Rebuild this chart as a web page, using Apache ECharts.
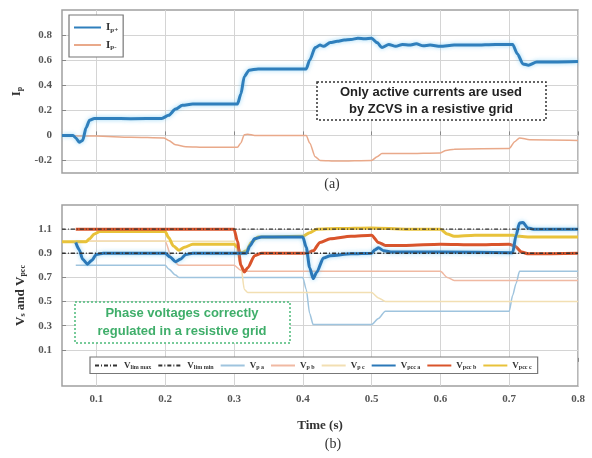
<!DOCTYPE html>
<html>
<head>
<meta charset="utf-8">
<script src="https://cdn.jsdelivr.net/npm/echarts@6/dist/echarts.min.js"></script>
<style>
  html, body { margin: 0; padding: 0; background: #fff; }
  #chart { width: 592px; height: 458px; }
</style>
</head>
<body>
<div id="chart"></div>
<script>
// tick values
var timeTicks = [0.1, 0.2, 0.3, 0.4, 0.5, 0.6, 0.7, 0.8];
var ipTicks = [-0.2, 0, 0.2, 0.4, 0.6, 0.8];
var vTicks = [0.1, 0.3, 0.5, 0.7, 0.9, 1.1];

// (a) active currents, [time, value]
var ipPlus = [[0.05,0],[0.066,0],[0.07,-0.02],[0.075,-0.055],[0.08,-0.04],[0.085,0.06],[0.09,0.12],[0.097,0.135],
  [0.12,0.135],[0.15,0.133],[0.195,0.135],[0.205,0.16],[0.215,0.21],[0.225,0.24],[0.24,0.25],[0.305,0.25],
  [0.31,0.33],[0.315,0.47],[0.322,0.52],[0.335,0.53],[0.405,0.53],[0.41,0.6],[0.418,0.7],[0.425,0.72],
  [0.43,0.71],[0.44,0.74],[0.45,0.75],[0.46,0.76],[0.47,0.765],[0.48,0.775],[0.49,0.77],[0.5,0.775],
  [0.508,0.74],[0.515,0.7],[0.525,0.725],[0.535,0.71],[0.545,0.725],[0.555,0.72],[0.565,0.73],[0.575,0.715],
  [0.585,0.72],[0.6,0.71],[0.62,0.72],[0.65,0.72],[0.68,0.725],[0.705,0.725],[0.712,0.65],[0.72,0.57],
  [0.728,0.56],[0.74,0.585],[0.8,0.59]];
var ipMinus = [[0.05,0],[0.1,-0.005],[0.15,-0.015],[0.198,-0.02],[0.205,-0.04],[0.215,-0.075],[0.23,-0.09],
  [0.26,-0.095],[0.305,-0.095],[0.31,-0.06],[0.315,0.005],[0.32,0.01],[0.33,0],[0.405,0],[0.41,-0.06],
  [0.418,-0.17],[0.425,-0.2],[0.45,-0.205],[0.5,-0.2],[0.508,-0.17],[0.515,-0.145],[0.55,-0.145],[0.6,-0.14],
  [0.608,-0.12],[0.62,-0.11],[0.7,-0.105],[0.708,-0.05],[0.715,-0.02],[0.73,-0.035],[0.8,-0.04]];

// (b) voltages
var vLimMax = [[0.05,1.1],[0.8,1.1]];
var vLimMin = [[0.05,0.9],[0.8,0.9]];
var vPa = [[0.07,0.8],[0.2,0.8],[0.205,0.77],[0.215,0.72],[0.22,0.7],[0.4,0.7],[0.405,0.6],[0.41,0.4],
  [0.415,0.31],[0.5,0.31],[0.51,0.36],[0.52,0.42],[0.7,0.42],[0.705,0.55],[0.71,0.65],[0.715,0.75],[0.8,0.75]];
var vPb = [[0.07,1.0],[0.2,1.0],[0.21,0.85],[0.22,0.8],[0.3,0.8],[0.31,0.76],[0.32,0.75],[0.6,0.75],
  [0.61,0.7],[0.62,0.675],[0.8,0.675]];
var vPc = [[0.07,1.0],[0.3,1.0],[0.31,0.8],[0.315,0.6],[0.32,0.575],[0.5,0.575],[0.51,0.53],[0.52,0.5],[0.8,0.5]];
var vPccA = [[0.07,0.99],[0.075,0.93],[0.08,0.85],[0.087,0.81],[0.093,0.84],[0.1,0.89],[0.11,0.9],[0.2,0.9],
  [0.207,0.87],[0.215,0.83],[0.222,0.85],[0.23,0.89],[0.24,0.9],[0.318,0.9],[0.323,0.96],[0.33,1.02],
  [0.34,1.035],[0.4,1.035],[0.405,0.95],[0.41,0.78],[0.415,0.69],[0.42,0.74],[0.43,0.86],[0.44,0.88],
  [0.47,0.895],[0.5,0.9],[0.505,0.93],[0.51,0.945],[0.518,0.92],[0.53,0.91],[0.6,0.91],[0.705,0.905],
  [0.71,1.05],[0.715,1.15],[0.72,1.155],[0.727,1.11],[0.735,1.1],[0.8,1.1]];
var vPccB = [[0.07,1.1],[0.3,1.1],[0.305,1.0],[0.31,0.8],[0.315,0.745],[0.32,0.78],[0.33,0.88],[0.34,0.9],
  [0.405,0.9],[0.415,0.92],[0.425,0.99],[0.44,1.02],[0.47,1.04],[0.5,1.05],[0.51,0.99],[0.52,0.965],
  [0.55,0.965],[0.6,0.975],[0.65,0.97],[0.7,0.975],[0.708,0.96],[0.718,0.91],[0.728,0.895],[0.8,0.9]];
var vPccC = [[0.05,0.995],[0.085,0.995],[0.09,1.02],[0.097,1.06],[0.105,1.08],[0.2,1.08],[0.205,1.03],
  [0.212,0.96],[0.22,0.925],[0.228,0.95],[0.24,0.975],[0.3,0.975],[0.305,0.95],[0.31,0.9],[0.318,0.92],
  [0.325,0.99],[0.335,1.035],[0.4,1.04],[0.41,1.07],[0.42,1.1],[0.45,1.105],[0.5,1.11],[0.55,1.1],[0.6,1.1],
  [0.61,1.06],[0.62,1.04],[0.65,1.05],[0.705,1.05],[0.715,1.04],[0.73,1.035],[0.8,1.035]];

var serif = '"Liberation Serif", "DejaVu Serif", serif';
var sans = '"Liberation Sans", Arial, sans-serif';

function line(name, data, color, width, idx, extra) {
  var s = {
    name: name, type: 'line', data: data, xAxisIndex: idx, yAxisIndex: idx,
    symbol: 'none', smooth: 0.25, smoothMonotone: 'x', animation: false,
    lineStyle: { color: color, width: width },
    itemStyle: { color: color }
  };
  if (extra) Object.assign(s.lineStyle, extra);
  return s;
}
var glow = { shadowColor: 'rgba(110,200,245,0.7)', shadowBlur: 4 };
var dashDot = { type: [4, 2, 1, 2] };

function xAxis(idx, showLabel) {
  return {
    type: 'value', gridIndex: idx, min: 0.05, max: 0.8,
    name: showLabel ? 'Time (s)' : '', nameLocation: 'middle', nameGap: 33,
    nameTextStyle: { fontFamily: serif, fontWeight: 'bold', fontSize: 13, color: '#333' },
    axisLine: { show: false },
    axisTick: { show: true, inside: true, length: 4, customValues: timeTicks, lineStyle: { color: '#888' } },
    axisLabel: { show: showLabel, customValues: timeTicks, margin: 8,
      fontFamily: serif, fontWeight: 'bold', fontSize: 11, color: '#555' },
    splitLine: { show: true, lineStyle: { color: '#d4d4d4', width: 1 } }
  };
}
function yAxis(idx, min, max, ticks, name, gap) {
  return {
    type: 'value', gridIndex: idx, min: min, max: max,
    name: name, nameLocation: 'middle', nameGap: gap, nameRotate: 90,
    nameTextStyle: { fontFamily: serif, fontWeight: 'bold', fontSize: 13, color: '#333', rich: {
      s: { fontSize: 8, fontFamily: serif, fontWeight: 'bold', color: '#333', padding: [6, 0, 0, 0] } } },
    axisLine: { show: false },
    axisTick: { show: true, inside: true, length: 4, customValues: ticks, lineStyle: { color: '#888' } },
    axisLabel: { customValues: ticks, margin: 10,
      fontFamily: serif, fontWeight: 'bold', fontSize: 11, color: '#555' },
    splitLine: { show: true, lineStyle: { color: '#d4d4d4', width: 1 } }
  };
}

var chart = echarts.init(document.getElementById('chart'));
chart.setOption({
  backgroundColor: '#fff',
  grid: [
    { left: 62, right: 14, top: 10, height: 163, show: true, borderColor: '#a0a0a0', borderWidth: 1.5 },
    { left: 62, right: 14, top: 205, height: 181, show: true, borderColor: '#a0a0a0', borderWidth: 1.5 }
  ],
  xAxis: [xAxis(0, false), xAxis(1, true)],
  yAxis: [
    yAxis(0, -0.3, 1.0, ipTicks, 'I{s|p}', 38),
    yAxis(1, -0.2, 1.3, vTicks, 'V{s|s} and V{s|pcc}', 30)
  ],
  legend: [
    {
      data: ['Ip+', 'Ip-'], left: 69, top: 15, orient: 'vertical',
      itemWidth: 27, itemHeight: 10, itemGap: 6, padding: [7, 5, 6, 4],
      itemStyle: { opacity: 0 },
      borderColor: '#777', borderWidth: 1.2, backgroundColor: '#fff',
      formatter: function (n) { return 'I{s|' + n.slice(1) + '}'; },
      textStyle: { fontFamily: serif, fontWeight: 'bold', fontSize: 11, color: '#333', rich: {
        s: { fontSize: 7, fontFamily: serif, fontWeight: 'bold', color: '#333', padding: [5, 0, 0, 0] } } }
    },
    {
      data: ['Vlim max', 'Vlim min', 'Vp a', 'Vp b', 'Vp c', 'Vpcc a', 'Vpcc b', 'Vpcc c'],
      left: 90, top: 357, orient: 'horizontal',
      itemWidth: 24, itemHeight: 8, itemGap: 6, padding: [4, 6, 3, 4],
      itemStyle: { opacity: 0 },
      borderColor: '#777', borderWidth: 1.2, backgroundColor: '#fff',
      formatter: function (n) { return 'V{s|' + n.slice(1) + '}'; },
      textStyle: { fontFamily: serif, fontWeight: 'bold', fontSize: 9, color: '#333', rich: {
        s: { fontSize: 6, fontFamily: serif, fontWeight: 'bold', color: '#333', padding: [4, 0, 0, 0] } } }
    }
  ],
  series: [
    line('Ip-', ipMinus, '#e9a98a', 1.5, 0),
    line('Ip+', ipPlus, '#2f7fbc', 3, 0, glow),
    line('Vp a', vPa, '#9fc4de', 1.5, 1),
    line('Vp b', vPb, '#f0b9a2', 1.5, 1),
    line('Vp c', vPc, '#f2dfb2', 1.5, 1),
    line('Vpcc c', vPccC, '#e8c23a', 3, 1),
    line('Vpcc b', vPccB, '#d9542b', 3, 1),
    line('Vpcc a', vPccA, '#2b78b8', 3, 1, glow),
    line('Vlim max', vLimMax, '#333', 1.3, 1, dashDot),
    line('Vlim min', vLimMin, '#333', 1.3, 1, dashDot)
  ],
  graphic: [
    { type: 'rect', z: 100, shape: { x: 317, y: 82, width: 229, height: 38 },
      style: { fill: '#fff', stroke: '#333', lineWidth: 1.5, lineDash: [2, 2] } },
    { type: 'text', z: 101, x: 431, y: 101,
      style: { text: 'Only active currents are used\nby ZCVS in a resistive grid', align: 'center',
        verticalAlign: 'middle', font: 'bold 13px ' + sans, fill: '#222', lineHeight: 17 } },
    { type: 'rect', z: 100, shape: { x: 75, y: 302, width: 215, height: 41 },
      style: { fill: '#fff', stroke: '#4cbb7a', lineWidth: 1.5, lineDash: [2, 2] } },
    { type: 'text', z: 101, x: 182, y: 322.5,
      style: { text: 'Phase voltages correctly\nregulated in a resistive grid', align: 'center',
        verticalAlign: 'middle', font: 'bold 13px ' + sans, fill: '#3fae6a', lineHeight: 18 } },
    { type: 'text', x: 332, y: 184,
      style: { text: '(a)', align: 'center', verticalAlign: 'middle', font: '14px ' + serif, fill: '#333' } },
    { type: 'text', x: 333, y: 444,
      style: { text: '(b)', align: 'center', verticalAlign: 'middle', font: '14px ' + serif, fill: '#333' } }
  ]
});
</script>
</body>
</html>
